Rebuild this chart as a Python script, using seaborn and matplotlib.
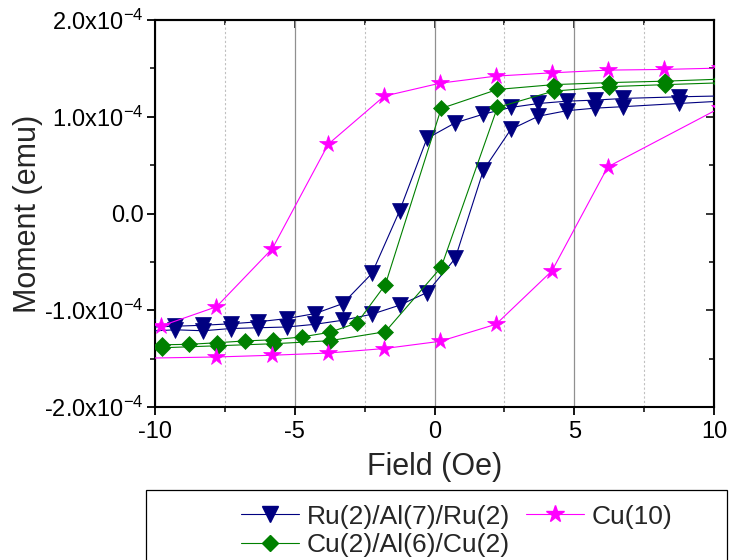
import numpy as np
import pandas as pd
import matplotlib
matplotlib.use("Agg")
import matplotlib.pyplot as plt
import seaborn as sns
from matplotlib.ticker import MultipleLocator, FuncFormatter, FixedLocator
from matplotlib.lines import Line2D
from matplotlib.patches import Rectangle

# ---------------- data (moment in units of 1e-4 emu) ----------------
samples = ["Ru(2)/Al(7)/Ru(2)", "Cu(2)/Al(6)/Cu(2)", "Cu(10)"]
colors = ["#000080", "#008000", "#FF00FF"]
markers = ["v", "D", "*"]

ru_desc_field = [10.73, 8.73, 6.74, 5.75, 4.74, 3.72, 2.73, 1.75, 0.74, -0.27,
                 -1.25, -2.24, -3.28, -4.27, -5.28, -6.30, -7.29, -8.27, -9.28, -10.28]
ru_desc_moment = [1.218, 1.206, 1.189, 1.172, 1.161, 1.137, 1.096, 1.027, 0.937, 0.776,
                  0.027, -0.620, -0.931, -1.034, -1.086, -1.119, -1.140, -1.155, -1.165, -1.176]
ru_asc_field = [-10.28, -9.28, -8.27, -7.29, -6.30, -5.28, -4.27, -3.28, -2.24, -1.25,
                -0.27, 0.74, 1.75, 2.73, 3.72, 4.74, 5.75, 6.74, 8.73, 10.73]
ru_asc_moment = [-1.217, -1.202, -1.212, -1.189, -1.181, -1.173, -1.145, -1.103, -1.041, -0.948,
                 -0.817, -0.465, 0.448, 0.869, 1.006, 1.063, 1.089, 1.104, 1.137, 1.169]

cu_desc_field = [10.26, 8.26, 6.26, 4.26, 2.25, 0.24, -1.76, -2.77, -3.75, -4.75,
                 -5.78, -6.78, -7.79, -8.77, -9.76, -10.77]
cu_desc_moment = [1.389, 1.368, 1.353, 1.332, 1.282, 1.086, -0.736, -1.131, -1.228, -1.276,
                  -1.305, -1.317, -1.336, -1.352, -1.357, -1.362]
cu_asc_field = [-11.76, -9.76, -7.76, -5.76, -3.75, -1.76, 0.24, 2.25, 4.26, 6.26, 8.26, 10.26]
cu_asc_moment = [-1.403, -1.388, -1.367, -1.346, -1.315, -1.222, -0.555, 1.096, 1.265, 1.311,
                 1.332, 1.351]

cu10_desc_field = [10.2, 8.2, 6.2, 4.2, 2.2, 0.2, -1.8, -3.8, -5.8, -7.8, -9.8]
cu10_desc_moment = [1.503, 1.489, 1.482, 1.454, 1.420, 1.347, 1.213, 0.717, -0.362, -0.964, -1.165]
cu10_asc_field = [-11.8, -7.8, -5.8, -3.8, -1.8, 0.2, 2.2, 4.2, 6.2, 10.2]
cu10_asc_moment = [-1.502, -1.483, -1.465, -1.442, -1.396, -1.321, -1.145, -0.594, 0.482, 1.089]

x_ticks = [-10, -5, 0, 5, 10]
y_ticks = [-2.0, -1.0, 0.0, 1.0, 2.0]

branches = [
    (samples[0], "desc", ru_desc_field, ru_desc_moment),
    (samples[0], "asc", ru_asc_field, ru_asc_moment),
    (samples[1], "desc", cu_desc_field, cu_desc_moment),
    (samples[1], "asc", cu_asc_field, cu_asc_moment),
    (samples[2], "desc", cu10_desc_field, cu10_desc_moment),
    (samples[2], "asc", cu10_asc_field, cu10_asc_moment),
]
rows = []
for s, b, fx, my in branches:
    for i, (f, m) in enumerate(zip(fx, my)):
        rows.append({"Sample": s, "Branch": b, "order": i, "Field": f, "Moment": m * 1e-4})
df = pd.DataFrame(rows)

# ---------------- style ----------------
sns.set_theme(style="white")
plt.rcParams["font.family"] = ["Liberation Sans", "DejaVu Sans"]
plt.rcParams["mathtext.fontset"] = "custom"
plt.rcParams["mathtext.rm"] = "Liberation Sans"
plt.rcParams["mathtext.it"] = "Liberation Sans:italic"
plt.rcParams["mathtext.default"] = "regular"
plt.rcParams["axes.unicode_minus"] = False

fig = plt.figure(figsize=(7.32, 5.6), dpi=100)
ax = fig.add_axes([155 / 732, 1 - 407 / 560, (714 - 155) / 732, (407 - 20) / 560])

style = {
    samples[0]: dict(color=colors[0], marker=markers[0], markersize=11),
    samples[1]: dict(color=colors[1], marker=markers[1], markersize=8.5),
    samples[2]: dict(color=colors[2], marker=markers[2], markersize=13),
}

for (s, b), sub in df.groupby(["Sample", "Branch"], sort=False):
    st = style[s]
    sns.lineplot(data=sub.sort_values("order"), x="Field", y="Moment", sort=False,
                 estimator=None, ax=ax, legend=False, color=st["color"],
                 marker=st["marker"], markersize=st["markersize"],
                 markeredgecolor=st["color"], markeredgewidth=0.5, linewidth=0.8,
                 zorder=3)

ax.set_xlim(-10, 10)
ax.set_ylim(-2e-4, 2e-4)

ax.xaxis.set_major_locator(FixedLocator(x_ticks))
ax.xaxis.set_minor_locator(MultipleLocator(2.5))
ax.yaxis.set_major_locator(FixedLocator([v * 1e-4 for v in y_ticks]))
ax.yaxis.set_minor_locator(MultipleLocator(0.5e-4))


def yfmt(v, pos):
    m = v / 1e-4
    if abs(m) < 1e-9:
        return "0.0"
    return f"{m:.1f}x10$^{{-4}}$"


ax.yaxis.set_major_formatter(FuncFormatter(yfmt))

# grid: vertical only
ax.grid(False)
ax.xaxis.grid(True, which="major", color="#909090", linewidth=0.9, linestyle="-", zorder=0)
ax.xaxis.grid(True, which="minor", color="#c0c0c0", linewidth=0.8, linestyle=(0, (2, 2)), zorder=0)
ax.yaxis.grid(False, which="both")

for sp in ax.spines.values():
    sp.set_linewidth(1.5)
    sp.set_color("black")

ax.tick_params(axis="both", which="major", direction="out", length=6, width=1.3,
               labelsize=17, colors="black", pad=2)
ax.tick_params(axis="x", which="major", pad=4)
ax.tick_params(axis="both", which="minor", direction="out", length=3.6, width=1.3)
ax.tick_params(axis="x", which="both", bottom=True, top=False)
ax.tick_params(axis="y", which="both", left=True, right=False)

secx = ax.secondary_xaxis("top")
secx.xaxis.set_major_locator(FixedLocator(x_ticks))
secx.xaxis.set_minor_locator(MultipleLocator(2.5))
secx.tick_params(which="major", direction="in", length=6, width=1.3, labeltop=False)
secx.tick_params(which="minor", direction="in", length=3.6, width=1.3)
secx.spines["top"].set_linewidth(1.5)

secy = ax.secondary_yaxis("right")
secy.yaxis.set_major_locator(FixedLocator([v * 1e-4 for v in y_ticks]))
secy.yaxis.set_minor_locator(MultipleLocator(0.5e-4))
secy.tick_params(which="major", direction="in", length=6, width=1.3, labelright=False)
secy.tick_params(which="minor", direction="in", length=3.6, width=1.3)
secy.spines["right"].set_linewidth(1.5)

ax.set_xlabel("Field (Oe)", fontsize=22)
ax.set_ylabel("Moment (emu)", fontsize=22)
ax.xaxis.set_label_coords(0.5, -0.115)
ax.yaxis.set_label_coords(-0.2, 0.5)

# legend
handles = [Line2D([], [], color=style[s]["color"], marker=style[s]["marker"],
                  markersize=style[s]["markersize"], markeredgecolor=style[s]["color"],
                  linewidth=0.8) for s in samples]
leg = fig.legend(handles, samples, ncol=2, loc="center", bbox_to_anchor=(0.624, 0.052),
                 frameon=False, fontsize=19, handlelength=2.2, handletextpad=0.3,
                 columnspacing=0.6, labelspacing=0.18, borderpad=0.0)
fig.patches.append(Rectangle((145.8 / 732, -0.05), (727 - 145.8) / 732, 0.05 + 1 - 490 / 560,
                             transform=fig.transFigure, fill=False, edgecolor="black",
                             linewidth=0.9))

fig.savefig("out.png", dpi=100)
